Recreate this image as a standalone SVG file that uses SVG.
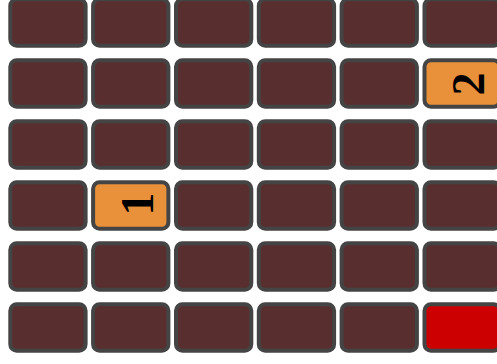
<svg xmlns="http://www.w3.org/2000/svg" width="497" height="364" viewBox="0 0 497 364">
<style>
.c{fill:#582e2e;stroke:#444444;stroke-width:4}
.o{fill:#e8913a;stroke:#444444;stroke-width:4}
.r{fill:#cc0000;stroke:#444444;stroke-width:4}
.t{font-family:"Liberation Serif",serif;font-weight:bold;font-size:46px;fill:#000;text-anchor:middle}
</style>
<rect width="497" height="364" fill="#ffffff"/>
<defs><rect id="cell" width="75.3" height="46.5" rx="6.5"/></defs>
<g id="r0">
<g id="n0_0"><use href="#cell" class="c" x="10.3" y="-0.7"/></g>
<g id="n0_1"><use href="#cell" class="c" x="93.1" y="-0.7"/></g>
<g id="n0_2"><use href="#cell" class="c" x="176" y="-0.7"/></g>
<g id="n0_3"><use href="#cell" class="c" x="258.8" y="-0.7"/></g>
<g id="n0_4"><use href="#cell" class="c" x="341.6" y="-0.7"/></g>
<g id="n0_5"><use href="#cell" class="c" x="424.5" y="-0.7"/></g>
</g>
<g id="r1">
<g id="n1_0"><use href="#cell" class="c" x="10.3" y="60.3"/></g>
<g id="n1_1"><use href="#cell" class="c" x="93.1" y="60.3"/></g>
<g id="n1_2"><use href="#cell" class="c" x="176" y="60.3"/></g>
<g id="n1_3"><use href="#cell" class="c" x="258.8" y="60.3"/></g>
<g id="n1_4"><use href="#cell" class="c" x="341.6" y="60.3"/></g>
<g id="n1_5"><use href="#cell" class="o" x="424.5" y="60.3"/><text class="t" transform="translate(468.5,84) rotate(-90)" x="0" y="15.5">2</text></g>
</g>
<g id="r2">
<g id="n2_0"><use href="#cell" class="c" x="10.3" y="121.3"/></g>
<g id="n2_1"><use href="#cell" class="c" x="93.1" y="121.3"/></g>
<g id="n2_2"><use href="#cell" class="c" x="176" y="121.3"/></g>
<g id="n2_3"><use href="#cell" class="c" x="258.8" y="121.3"/></g>
<g id="n2_4"><use href="#cell" class="c" x="341.6" y="121.3"/></g>
<g id="n2_5"><use href="#cell" class="c" x="424.5" y="121.3"/></g>
</g>
<g id="r3">
<g id="n3_0"><use href="#cell" class="c" x="10.3" y="182.3"/></g>
<g id="n3_1"><use href="#cell" class="o" x="93.1" y="182.3"/><text class="t" transform="translate(137,204) rotate(-90)" x="0" y="15.5">1</text></g>
<g id="n3_2"><use href="#cell" class="c" x="176" y="182.3"/></g>
<g id="n3_3"><use href="#cell" class="c" x="258.8" y="182.3"/></g>
<g id="n3_4"><use href="#cell" class="c" x="341.6" y="182.3"/></g>
<g id="n3_5"><use href="#cell" class="c" x="424.5" y="182.3"/></g>
</g>
<g id="r4">
<g id="n4_0"><use href="#cell" class="c" x="10.3" y="243.3"/></g>
<g id="n4_1"><use href="#cell" class="c" x="93.1" y="243.3"/></g>
<g id="n4_2"><use href="#cell" class="c" x="176" y="243.3"/></g>
<g id="n4_3"><use href="#cell" class="c" x="258.8" y="243.3"/></g>
<g id="n4_4"><use href="#cell" class="c" x="341.6" y="243.3"/></g>
<g id="n4_5"><use href="#cell" class="c" x="424.5" y="243.3"/></g>
</g>
<g id="r5">
<g id="n5_0"><use href="#cell" class="c" x="10.3" y="304.3"/></g>
<g id="n5_1"><use href="#cell" class="c" x="93.1" y="304.3"/></g>
<g id="n5_2"><use href="#cell" class="c" x="176" y="304.3"/></g>
<g id="n5_3"><use href="#cell" class="c" x="258.8" y="304.3"/></g>
<g id="n5_4"><use href="#cell" class="c" x="341.6" y="304.3"/></g>
<g id="n5_5"><use href="#cell" class="r" x="424.5" y="304.3"/></g>
</g>
<g id="connectors"/>
</svg>
